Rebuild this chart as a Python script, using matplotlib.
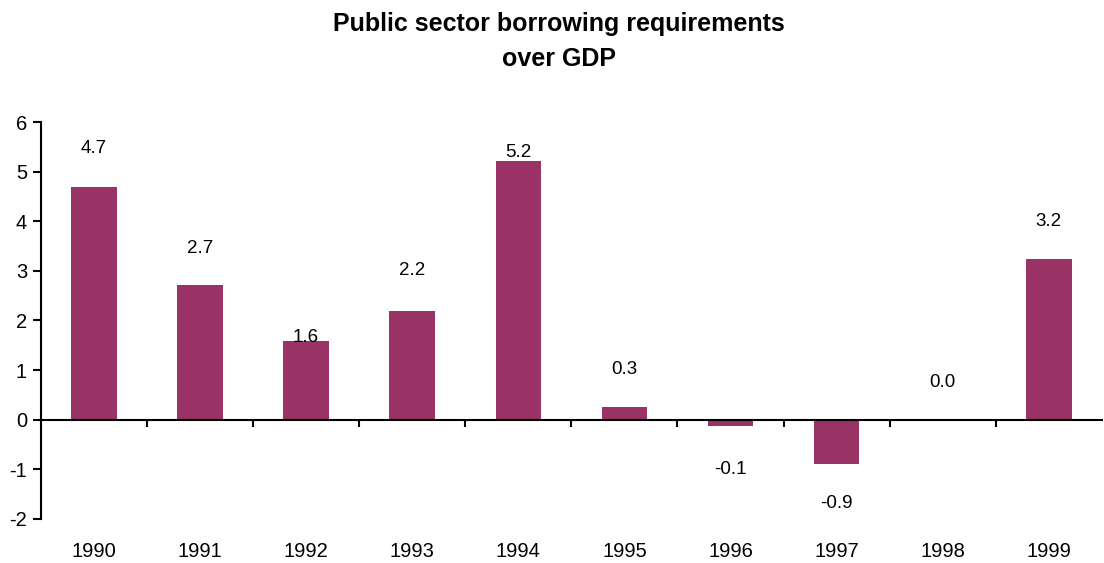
import numpy as np
import matplotlib.pyplot as plt

plt.rcParams['font.family'] = ['Liberation Sans', 'DejaVu Sans']
plt.rcParams['axes.unicode_minus'] = False

# Дані
years = ['1990', '1991', '1992', '1993', '1994', '1995', '1996', '1997', '1998', '1999']
values = [4.7, 2.72, 1.59, 2.2, 5.22, 0.26, -0.13, -0.89, 0.0, 3.24]
labels = ['4.7', '2.7', '1.6', '2.2', '5.2', '0.3', '-0.1', '-0.9', '0.0', '3.2']
# зсув підписів відносно верху стовпця (одиниці даних)
label_offsets = [0.77, 0.73, 0.07, 0.8, 0.16, 0.75, -0.88, -0.79, 0.75, 0.76]

fig = plt.figure(figsize=(11.04, 5.63), dpi=100)
ax = fig.add_axes([0.0371, 0.0782, 0.9609, 0.7051])

x = np.arange(len(years))
ax.bar(x, values, width=0.43, color='#993366')

for xi, v, lab, off in zip(x, values, labels, label_offsets):
    ax.text(xi, v + off, lab, ha='center', va='center', fontsize=13.5)

ax.set_xlim(-0.5, len(years) - 0.5)
ax.set_ylim(-2, 6)
ax.set_yticks(range(-2, 7))

for s in ['top', 'right']:
    ax.spines[s].set_visible(False)
ax.spines['bottom'].set_position(('data', 0))
ax.spines['bottom'].set_linewidth(1.5)
ax.spines['left'].set_linewidth(1.5)

ax.set_xticks(x[:-1] + 0.5)
ax.set_xticklabels([])
ax.tick_params(axis='x', direction='out', length=5, width=1.5)
ax.tick_params(axis='y', direction='out', length=6, width=1.5, labelsize=14.5, pad=4)

for xi, yr in zip(x, years):
    ax.text(xi, -0.082, yr, transform=ax.get_xaxis_transform(),
            ha='center', va='center', fontsize=14.5)

fig.text(0.506, 0.978, 'Public sector borrowing requirements\nover GDP',
         ha='center', va='top', fontsize=18, fontweight='bold', linespacing=1.55)

plt.savefig('out.png', dpi=100)
